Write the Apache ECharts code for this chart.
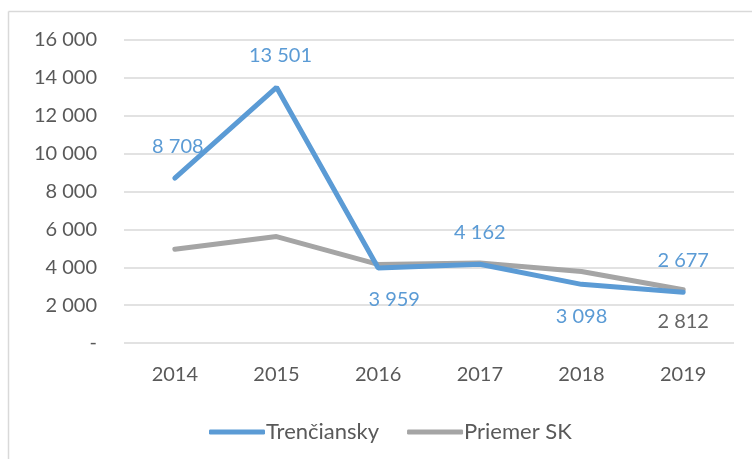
<!DOCTYPE html>
<html><head><meta charset="utf-8">
<script src="https://cdn.jsdelivr.net/npm/echarts@6/dist/echarts.min.js"></script>
<style>html,body{margin:0;padding:0;background:#fff}#c{width:752px;height:459px}</style>
</head><body><div id="c"></div>
<script>
const years = ['2014','2015','2016','2017','2018','2019'];
const trencin = [8708, 13501, 3959, 4162, 3098, 2677];
const priemer = [4950, 5620, 4150, 4230, 3780, 2812];
const yTicks = [0, 2000, 4000, 6000, 8000, 10000, 12000, 14000, 16000];

const grp = v => String(v).replace(/\B(?=(\d{3})+(?!\d))/g, ' ');
const fmt = v => v === 0 ? '-' : grp(v);
const FONT = 'Lato';
const tPos = ['top','top','bottom','top','bottom','top'];
const tOff = [[3,0],[4,0],[16,0],[0,0],[0,0],[0,0]];

const chart = echarts.init(document.getElementById('c'));
chart.setOption({
  animation: false,
  textStyle: { fontFamily: FONT },
  graphic: [
    { type: 'line', shape: { x1: 8.5, y1: 11.5, x2: 752, y2: 11.5 }, style: { stroke: '#d9d9d9', lineWidth: 1.5 } },
    { type: 'line', shape: { x1: 8.5, y1: 11.5, x2: 8.5, y2: 459 }, style: { stroke: '#d9d9d9', lineWidth: 1.5 } }
  ],
  grid: { left: 124, right: 18, top: 40, bottom: 116, containLabel: false },
  legend: {
    top: 416, left: 204, itemGap: 28, itemWidth: 56, itemHeight: 5,
    icon: 'roundRect',
    textStyle: { fontFamily: FONT, fontSize: 22, color: '#595959', padding: [0,0,0,-4] },
    data: ['Trenčiansky', 'Priemer SK']
  },
  xAxis: {
    type: 'category', data: years, boundaryGap: true,
    axisLine: { show: false }, axisTick: { show: false },
    axisLabel: { fontFamily: FONT, fontSize: 20, color: '#595959', margin: 22 }
  },
  yAxis: {
    type: 'value', min: yTicks[0], max: yTicks[yTicks.length-1], interval: yTicks[1]-yTicks[0],
    axisLine: { show: false }, axisTick: { show: false },
    splitLine: { lineStyle: { color: '#d9d9d9', width: 1.5 } },
    axisLabel: { fontFamily: FONT, fontSize: 20, color: '#595959', margin: 27, formatter: fmt }
  },
  series: [
    {
      name: 'Priemer SK', type: 'line', data: priemer.map((v, i) => ({
        value: v,
        label: { show: i === priemer.length - 1, position: 'bottom', distance: 22 }
      })),
      symbol: 'circle', symbolSize: 0, showSymbol: true,
      lineStyle: { color: '#a5a5a5', width: 5, cap: 'round' }, itemStyle: { color: '#a5a5a5' },
      label: { fontFamily: FONT, fontSize: 20, color: '#666666', formatter: p => grp(p.value) }
    },
    {
      name: 'Trenčiansky', type: 'line', data: trencin.map((v, i) => ({
        value: v,
        label: { show: true, position: tPos[i], offset: tOff[i], distance: 22 }
      })),
      symbol: 'circle', symbolSize: 0, showSymbol: true,
      lineStyle: { color: '#5b9bd5', width: 5, cap: 'round' }, itemStyle: { color: '#5b9bd5' },
      label: { show: true, fontFamily: FONT, fontSize: 20, color: '#5b9bd5', formatter: p => grp(p.value) }
    }
  ]
});
</script></body></html>
